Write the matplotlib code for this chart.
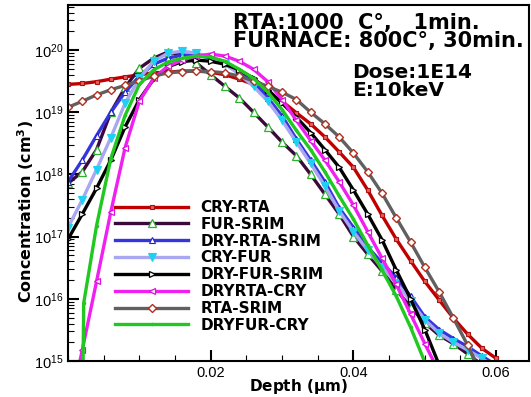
import matplotlib
matplotlib.use("Agg")
import matplotlib.pyplot as plt
import numpy as np

plt.rcParams['font.family'] = ['Liberation Sans', 'DejaVu Sans']
plt.rcParams['mathtext.fontset'] = 'custom'
plt.rcParams['mathtext.rm'] = 'Liberation Sans'
plt.rcParams['mathtext.bf'] = 'DejaVu Sans:bold'
plt.rcParams['mathtext.it'] = 'DejaVu Sans:bold'

# depth grid (um)
depth = [0.000, 0.002, 0.004, 0.006, 0.008, 0.010, 0.012, 0.014, 0.016, 0.018,
         0.020, 0.022, 0.024, 0.026, 0.028, 0.030, 0.032, 0.034, 0.036, 0.038,
         0.040, 0.042, 0.044, 0.046, 0.048, 0.050, 0.052, 0.054, 0.056, 0.058,
         0.060]

cry_rta = [2.8e19, 2.9e19, 3.1e19, 3.4e19, 3.7e19, 4.0e19, 4.3e19, 4.4e19, 4.6e19, 4.6e19,
           4.4e19, 4.0e19, 3.4e19, 2.8e19, 2.0e19, 1.5e19, 9.8e18, 6.5e18, 4.0e18, 2.3e18,
           1.3e18, 5.6e17, 2.2e17, 9.1e16, 4.1e16, 1.9e16, 9.6e15, 4.9e15, 2.7e15, 1.6e15,
           1.1e15]
fur_srim = [7.2e17, 1.1e18, 2.5e18, 1.0e19, 2.5e19, 5.1e19, 7.4e19, 9.3e19, 8.3e19, 6.2e19,
            4.0e19, 2.6e19, 1.7e19, 1.0e19, 5.8e18, 3.3e18, 2.0e18, 1.0e18, 4.8e17, 2.3e17,
            1.0e17, 5.2e16, 2.8e16, 1.4e16, 7.4e15, 4.1e15, 2.6e15, 1.9e15, 1.3e15, 8.7e14]
dry_rta_srim = [7.6e17, 1.7e18, 4.2e18, 1.0e19, 2.1e19, 3.8e19, 5.9e19, 7.4e19, 8.3e19, 8.3e19,
                7.4e19, 6.2e19, 4.5e19, 3.0e19, 1.7e19, 8.7e18, 3.7e18, 1.7e18, 7.6e17, 2.9e17,
                1.4e17, 6.8e16, 3.8e16, 2.2e16, 1.1e16, 5.1e15, 3.2e15, 2.3e15, 1.7e15, 1.2e15,
                8.6e14]
cry_fur = [1.4e17, 3.9e17, 1.2e18, 3.9e18, 1.4e19, 3.5e19, 6.6e19, 8.9e19, 9.6e19, 8.9e19,
           7.7e19, 5.9e19, 4.1e19, 2.6e19, 1.5e19, 7.4e18, 3.3e18, 1.5e18, 6.5e17, 2.6e17,
           1.2e17, 6.0e16, 3.2e16, 1.8e16, 9.2e15, 4.6e15, 2.8e15, 2.0e15, 1.5e15, 1.1e15,
           7.7e14]
dry_fur_srim = [9.1e16, 2.3e17, 6.0e17, 1.7e18, 5.8e18, 1.6e19, 3.4e19, 5.4e19, 6.5e19, 6.9e19,
                6.6e19, 5.9e19, 4.8e19, 3.5e19, 2.3e19, 1.4e19, 8.3e18, 4.7e18, 2.5e18, 1.3e18,
                5.6e17, 2.3e17, 8.9e16, 2.9e16, 1.0e16, 3.2e15, 8.7e14]
depth_dryrta_cry = [0.0015, 0.002, 0.004, 0.006, 0.008, 0.010, 0.012, 0.014, 0.016, 0.018,
                    0.020, 0.022, 0.024, 0.026, 0.028, 0.030, 0.032, 0.034, 0.036, 0.038,
                    0.040, 0.042, 0.044, 0.046, 0.048, 0.050, 0.052]
dryrta_cry = [8.0e14, 1.5e15, 1.9e16, 2.5e17, 2.7e18, 1.5e19, 3.5e19, 5.5e19, 6.9e19, 8.0e19,
              8.6e19, 8.0e19, 6.6e19, 4.9e19, 3.1e19, 1.6e19, 7.4e18, 3.5e18, 1.7e18, 7.6e17,
              3.2e17, 1.2e17, 4.5e16, 1.7e16, 5.7e15, 1.9e15, 6.6e14]
rta_srim = [1.2e19, 1.5e19, 1.9e19, 2.3e19, 2.7e19, 3.2e19, 3.8e19, 4.3e19, 4.5e19, 4.6e19,
            4.5e19, 4.3e19, 3.8e19, 3.2e19, 2.6e19, 2.1e19, 1.6e19, 1.0e19, 6.5e18, 4.0e18,
            2.2e18, 1.1e18, 5.0e17, 2.0e17, 8.2e16, 3.2e16, 1.3e16, 4.9e15, 1.8e15, 6.0e14]
depth_dryfur_cry = [0.0021, 0.0022, 0.004, 0.006, 0.008, 0.010, 0.012, 0.014, 0.016, 0.018,
                    0.020, 0.022, 0.024, 0.026, 0.028, 0.030, 0.032, 0.034, 0.036, 0.038,
                    0.040, 0.042, 0.044, 0.046, 0.048, 0.050]
dryfur_cry = [7.0e14, 8.5e15, 1.5e17, 1.8e18, 8.9e18, 2.8e19, 4.8e19, 6.4e19, 7.4e19, 8.0e19,
              7.7e19, 6.6e19, 4.9e19, 3.5e19, 2.1e19, 1.1e19, 5.1e18, 2.5e18, 1.1e18, 4.5e17,
              1.9e17, 7.3e16, 2.9e16, 1.1e16, 3.5e15, 9.6e14]

labels = ["CRY-RTA", "FUR-SRIM", "DRY-RTA-SRIM", "CRY-FUR", "DRY-FUR-SRIM",
          "DRYRTA-CRY", "RTA-SRIM", "DRYFUR-CRY"]

W, H = 531, 397
fig = plt.figure(figsize=(W / 100, H / 100), dpi=100)
ax = fig.add_axes([68 / W, 36 / H, 461 / W, 356 / H])

lw = 2.4
series = [
    (depth[:len(cry_rta)], cry_rta, dict(color='#c00000', marker='s', ms=3.5, mfc='#e06060', mec='#b01010', mew=0.8)),
    (depth[:len(fur_srim)], fur_srim, dict(color='#3a0a3a', marker='^', ms=6, mfc='white', mec='#30b030', mew=0.9)),
    (depth[:len(dry_rta_srim)], dry_rta_srim, dict(color='#3535e0', marker='^', ms=4, mfc='white', mec='#2020d0', mew=0.8)),
    (depth[:len(cry_fur)], cry_fur, dict(color='#a8a8f2', marker='v', ms=5.5, mfc='#20d0f0', mec='#20d0f0', mew=0.8)),
    (depth[:len(dry_fur_srim)], dry_fur_srim, dict(color='black', marker='>', ms=4.5, mfc='white', mec='black', mew=0.9)),
    (depth_dryrta_cry, dryrta_cry, dict(color='#f020f0', marker='<', ms=4.5, mfc='white', mec='#e010e0', mew=0.9)),
    (depth[:len(rta_srim)], rta_srim, dict(color='#606060', marker='D', ms=4.5, mfc='white', mec='#b03020', mew=1.0)),
    (depth_dryfur_cry, dryfur_cry, dict(color='#20c820', marker='o', ms=1.5, mfc='#20c820', mec='#20c820')),
]

for (x, y, st), lab in zip(series, labels):
    ax.plot(x, y, lw=lw, label=lab, clip_on=True, **st)

ax.set_yscale('log')
ax.set_xlim(0, 0.0646)
ax.set_ylim(1e15, 5.3e20)
ax.set_xticks([0.02, 0.04, 0.06])
ax.set_xticklabels(['0.02', '0.04', '0.06'])
ax.xaxis.set_minor_locator(matplotlib.ticker.MultipleLocator(0.005))
ax.yaxis.set_minor_locator(matplotlib.ticker.LogLocator(base=10, subs=np.arange(2, 10)))
ax.yaxis.set_minor_formatter(matplotlib.ticker.NullFormatter())
ax.tick_params(which='both', direction='in', top=False, right=False, labelsize=10.5)
ax.tick_params(which='major', length=8, width=1.5)
ax.tick_params(which='minor', length=4, width=0.8)
for s in ax.spines.values():
    s.set_linewidth(1.5)

boldfont = {'family': 'DejaVu Sans', 'weight': 'bold'}
ax.set_xlabel('Depth ($\\mathit{\\mu}$m)', fontsize=11, fontdict=boldfont)
ax.xaxis.set_label_coords((299 - 68) / 461, (361 - 377) / 356)
ax.set_ylabel('Concentration (cm$^\\mathbf{3}$)', fontsize=11.5, fontdict=boldfont)
ax.yaxis.set_label_coords((36 - 68) / 461, (361 - 211) / 356)

leg = ax.legend(loc='upper left', bbox_to_anchor=(115 / W, 1 - 200 / H),
                bbox_transform=fig.transFigure, frameon=False, borderpad=0,
                borderaxespad=0, handlelength=4.8, handletextpad=0.8,
                labelspacing=0.12, numpoints=1,
                prop={'family': 'DejaVu Sans', 'weight': 'bold', 'size': 11})

kw = dict(fontfamily='DejaVu Sans', fontweight='bold', va='center', ha='left')
fig.text(233 / W, 1 - 32 / H, 'RTA:1000  C°,   1min.\nFURNACE: 800C°, 30min.',
         fontsize=15, linespacing=0.88, **kw)
fig.text(352 / W, 1 - 81.5 / H, 'Dose:1E14\nE:10keV', fontsize=14.5, linespacing=0.97, **kw)

fig.savefig('out.png', dpi=100)
